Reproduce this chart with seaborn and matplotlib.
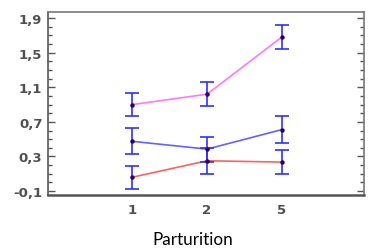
import numpy as np
import pandas as pd
import matplotlib
matplotlib.use("Agg")
import matplotlib.pyplot as plt
import seaborn as sns
from matplotlib.ticker import MultipleLocator

# data
parturition = ['1', '2', '5']
magenta_mean = [0.90, 1.02, 1.68]
magenta_err = [0.13, 0.14, 0.14]
blue_mean = [0.475, 0.385, 0.61]
blue_err = [0.15, 0.145, 0.16]
red_mean = [0.06, 0.25, 0.235]
red_err = [0.135, 0.15, 0.14]
yticks = [-0.1, 0.3, 0.7, 1.1, 1.5, 1.9]
ytick_labels = ['-0,1', '0,3', '0,7', '1,1', '1,5', '1,9']

pos = np.arange(len(parturition))
df = pd.DataFrame({
    'pos': np.tile(pos, 3),
    'value': magenta_mean + blue_mean + red_mean,
    'err': magenta_err + blue_err + red_err,
    'group': ['m'] * 3 + ['b'] * 3 + ['r'] * 3,
})
colors = {'m': '#ff78ff', 'b': '#6262ff', 'r': '#ff6060'}

sns.set_style('white')
fig = plt.figure(figsize=(3.69, 2.51), dpi=100)
ax = fig.add_axes([0.130, 0.219, 0.856, 0.729])

sns.lineplot(data=df, x='pos', y='value', hue='group', palette=colors,
             linewidth=1.2, legend=False, ax=ax, zorder=2)
for g, sub in df.groupby('group', sort=False):
    ax.errorbar(sub['pos'], sub['value'], yerr=sub['err'], fmt='o',
                ms=2.2, mfc='#2a0060', mec='#2a0060', ecolor='#3030ff',
                elinewidth=1.2, capsize=5, capthick=1.2, zorder=3)

ax.set_xlim(-1.13, 3.10)
ax.set_ylim(-0.146, 1.97)
ax.set_xticks(pos)
ax.set_xticklabels(parturition)
ax.set_yticks(yticks)
ax.set_yticklabels(ytick_labels)
ax.yaxis.set_minor_locator(MultipleLocator(0.1))
ax.tick_params(axis='y', which='both', direction='in', left=True, right=True,
               color='#555555', width=1.0, pad=4)
ax.tick_params(axis='y', which='major', length=5)
ax.tick_params(axis='y', which='minor', length=3)
ax.tick_params(axis='x', length=0, pad=6)
for lab in ax.get_xticklabels() + ax.get_yticklabels():
    lab.set_fontfamily('DejaVu Sans')
    lab.set_fontweight('bold')
    lab.set_fontsize(9.5)
    lab.set_color('#505050')
for s in ax.spines.values():
    s.set_color('#777777')
    s.set_linewidth(1.2)
ax.spines['bottom'].set_color('#555555')
ax.spines['bottom'].set_linewidth(1.8)
ax.spines['left'].set_color('#555555')
ax.set_xlabel('')
ax.set_ylabel('')

fig.text(193 / 369, 1 - 240 / 251, 'Parturition', ha='center', va='center',
         fontsize=12.3, family='Lato', color='black')

fig.savefig('out.png', dpi=100)
